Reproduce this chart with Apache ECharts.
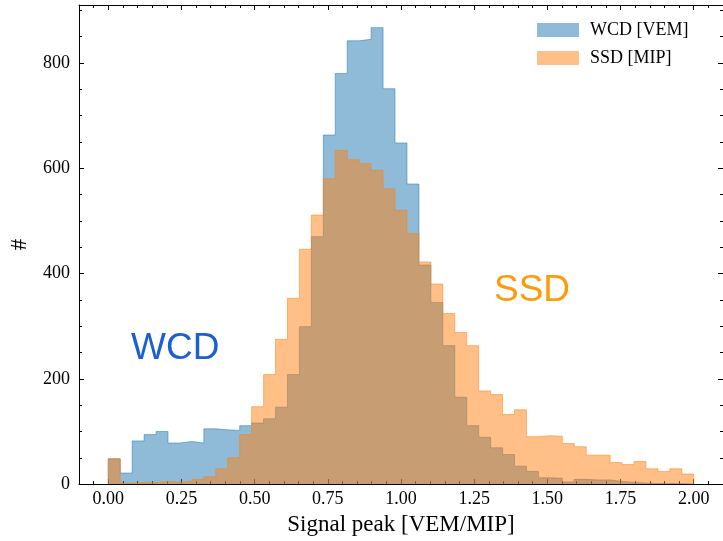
<!DOCTYPE html>
<html><head><meta charset="utf-8">
<script src="https://cdn.jsdelivr.net/npm/echarts@6/dist/echarts.min.js"></script>
<style>html,body{margin:0;padding:0;background:#fff}#c{width:723px;height:541px}</style>
</head><body><div id="c"></div>
<script>
// Histogram binning: 49 equal bins from 0 to 2
const binMin = 0, binMax = 2, binCount = 49;

// WCD [VEM] counts per bin
const wcdCounts = [48, 21, 82, 94, 100, 78, 81, 78, 105, 103, 102, 111, 116, 124, 146, 208, 299, 470,
  663, 780, 842, 845, 867, 751, 648, 570, 416, 345, 263, 165, 111, 89, 69, 56, 34, 24, 12, 11,
  4, 9, 8, 8, 5, 3, 2, 1, 1, 1, 0];

// SSD [MIP] counts per bin
const ssdCounts = [48, 2, 3, 3, 5, 4, 5, 9, 14, 29, 50, 94, 147, 208, 275, 353, 446, 511,
  580, 634, 616, 609, 596, 561, 520, 476, 422, 380, 324, 288, 263, 177, 170, 132, 141, 90, 92, 91,
  77, 71, 55, 55, 41, 37, 43, 29, 24, 29, 19];

const seriesNames = ['WCD [VEM]', 'SSD [MIP]'];
const xMajorTicks = [0, 0.25, 0.5, 0.75, 1, 1.25, 1.5, 1.75, 2];
const xMinorTicks = [-0.05, 0.05, 0.1, 0.15, 0.2, 0.3, 0.35, 0.4, 0.45, 0.55, 0.6, 0.65, 0.7,
  0.8, 0.85, 0.9, 0.95, 1.05, 1.1, 1.15, 1.2, 1.3, 1.35, 1.4, 1.45, 1.55, 1.6, 1.65, 1.7,
  1.8, 1.85, 1.9, 1.95, 2.05];
const yMajorTicks = [0, 200, 400, 600, 800];
const yMinorTicks = [50, 100, 150, 250, 300, 350, 450, 500, 550, 650, 700, 750, 850, 900];

const xMin = -0.1, xMax = 2.1, yMin = 0, yMax = 910;

function stepPoints(counts) {
  const w = (binMax - binMin) / binCount;
  const pts = [[binMin, 0]];
  counts.forEach((c, i) => pts.push([binMin + i * w, c]));
  pts.push([binMax, 0]);
  return pts;
}

const serif = 'Liberation Serif';
const black = '#000';
const blueFill = 'rgba(31,119,180,0.5)';
const orangeFill = 'rgba(255,127,14,0.5)';

function xAxisDef(pos, ticks, len, main) {
  return {
    type: 'value', min: xMin, max: xMax, position: pos,
    axisLine: { show: main, onZero: false, lineStyle: { color: black, width: 1 } },
    axisTick: { show: true, inside: true, length: len, customValues: ticks, lineStyle: { color: black, width: 1 } },
    axisLabel: (main && pos === 'bottom') ? {
      show: true, customValues: xMajorTicks, formatter: v => v.toFixed(2),
      fontFamily: serif, fontSize: 18, color: black, margin: 6
    } : { show: false },
    splitLine: { show: false },
    name: (main && pos === 'bottom') ? 'Signal peak [VEM/MIP]' : '',
    nameLocation: 'middle', nameGap: 27,
    nameTextStyle: { fontFamily: serif, fontSize: 23, color: black }
  };
}
function yAxisDef(pos, ticks, len, main) {
  return {
    type: 'value', min: yMin, max: yMax, position: pos,
    axisLine: { show: main, onZero: false, lineStyle: { color: black, width: 1 } },
    axisTick: { show: true, inside: true, length: len, customValues: ticks, lineStyle: { color: black, width: 1 } },
    axisLabel: (main && pos === 'left') ? {
      show: true, customValues: yMajorTicks,
      fontFamily: serif, fontSize: 18, color: black, margin: 9
    } : { show: false },
    splitLine: { show: false },
    name: (main && pos === 'left') ? '#' : '',
    nameLocation: 'middle', nameGap: 48, nameRotate: 90,
    nameTextStyle: { fontFamily: serif, fontSize: 23, color: black }
  };
}

const chart = echarts.init(document.getElementById('c'), null, { renderer: 'canvas' });
chart.setOption({
  animation: false,
  backgroundColor: '#fff',
  grid: { left: 78.5, right: 0, top: 5, bottom: 56.5, containLabel: false },
  xAxis: [
    xAxisDef('bottom', xMajorTicks, 5, true),
    xAxisDef('bottom', xMinorTicks, 3, false),
    xAxisDef('top', xMajorTicks, 5, true),
    xAxisDef('top', xMinorTicks, 3, false)
  ],
  yAxis: [
    yAxisDef('left', yMajorTicks, 5, true),
    yAxisDef('left', yMinorTicks, 3, false),
    yAxisDef('right', yMajorTicks, 5, true),
    yAxisDef('right', yMinorTicks, 3, false)
  ],
  legend: {
    orient: 'vertical', left: 532, top: 16, itemWidth: 42, itemHeight: 14, itemGap: 10,
    icon: 'rect',
    textStyle: { fontFamily: serif, fontSize: 18, color: black, padding: [0, 0, 0, 6] },
    data: [
      { name: seriesNames[0], itemStyle: { color: blueFill } },
      { name: seriesNames[1], itemStyle: { color: orangeFill } }
    ]
  },
  series: [
    {
      type: 'line', name: seriesNames[0], xAxisIndex: 0, yAxisIndex: 0,
      data: stepPoints(wcdCounts), step: 'end', symbol: 'none', z: 2,
      lineStyle: { color: blueFill, width: 1 },
      itemStyle: { color: blueFill },
      areaStyle: { color: blueFill, opacity: 1 }
    },
    {
      type: 'line', name: seriesNames[1], xAxisIndex: 0, yAxisIndex: 0,
      data: stepPoints(ssdCounts), step: 'end', symbol: 'none', z: 3,
      lineStyle: { color: orangeFill, width: 1 },
      itemStyle: { color: orangeFill },
      areaStyle: { color: orangeFill, opacity: 1 }
    }
  ],
  graphic: [
    { type: 'text', left: 131, top: 330, style: { text: 'WCD', fontFamily: 'Liberation Sans', fontSize: 37, fill: '#1c5fd4' } },
    { type: 'text', left: 494, top: 272, style: { text: 'SSD', fontFamily: 'Liberation Sans', fontSize: 37, fill: '#ff9a0a' } }
  ]
});
</script></body></html>
